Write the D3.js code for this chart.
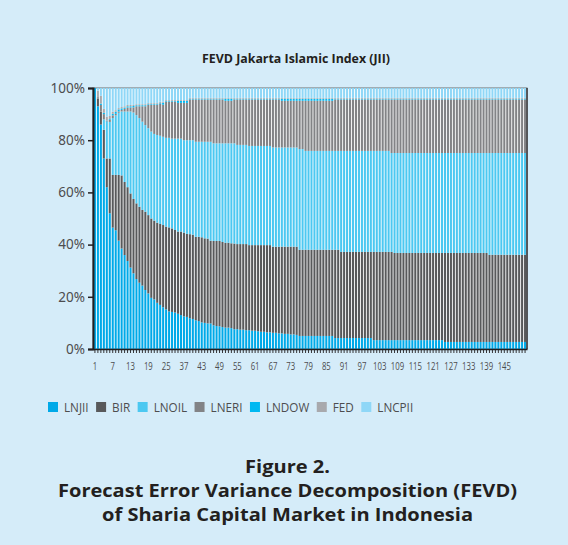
<!DOCTYPE html>
<html>
<head>
<meta charset="utf-8">
<script src="https://cdn.jsdelivr.net/npm/d3@7"></script>
<style>
  body { margin: 0; background: #d5ecf9; }
  svg { display: block; }
</style>
</head>
<body>
<script>
const width = 568;
const height = 545;
const plot = { left: 93, right: 527, top: 88, bottom: 349 };

const seriesNames = ["LNJII", "BIR", "LNOIL", "LNERI", "LNDOW", "FED", "LNCPII"];
const seriesColors = ["#00a9e8", "#58595b", "#4cc8f1", "#828386", "#00b8f1", "#a8a9ad", "#8fd7f7"];

// x tick labels as printed (every 6th period, one label skipped in the original)
const tickLabels = ["1", "7", "13", "19", "25", "37", "43", "49", "55", "61", "67", "73",
  "79", "85", "91", "97", "103", "109", "115", "121", "127", "133", "139", "145"];

// variance shares in percent, one value per period (146 periods)
const lnjii = [
  100, 93, 86, 73, 62, 52, 46.5, 45.5, 41.5, 38.5,
  36, 33.7, 31.2, 29, 26.8, 25.4, 24.3, 22.6, 21.3, 19.6,
  19, 17.7, 16.9, 16, 15.2, 14.4, 14.2, 14, 13.5, 13,
  12.5, 12.3, 11.8, 11.5, 11, 10.7, 10.2, 10, 9.8, 9.8,
  9.1, 8.8, 8.7, 8.4, 8.2, 8.2, 8, 7.6, 7.6, 7.4,
  7.4, 7.2, 7.2, 7, 7, 6.8, 6.6, 6.6, 6.4, 6.4,
  6.2, 6.2, 6, 6, 5.8, 5.8, 5.6, 5.6, 5.4, 5,
  5, 5, 5, 5, 5, 5, 5, 5, 5, 5,
  5, 4.2, 4.2, 4.2, 4.2, 4.2, 4.2, 4.2, 4.2, 4.2,
  4.2, 4.2, 4.2, 4.2, 3.4, 3.4, 3.4, 3.4, 3.4, 3.4,
  3.4, 3.4, 3.4, 3.4, 3.4, 3.4, 3.4, 3.4, 3.4, 3.4,
  3.4, 3.4, 3.4, 3.4, 3.4, 3.4, 3.4, 3.4, 2.7, 2.7,
  2.7, 2.7, 2.7, 2.7, 2.7, 2.7, 2.7, 2.7, 2.7, 2.7,
  2.7, 2.7, 2.7, 2.7, 2.7, 2.7, 2.7, 2.7, 2.7, 2.7,
  2.7, 2.7, 2.7, 2.7, 2.7, 2.7
];
const bir = [
  0, 3, 5, 11, 11, 21, 20.2, 21.2, 25.2, 28,
  28, 28.3, 28.4, 28.5, 29, 29.1, 29, 30, 30, 30.4,
  30.2, 30.7, 31, 31.5, 31.7, 32.2, 32, 31.6, 31.5, 32,
  32.1, 31.8, 32.2, 32.3, 32, 32.3, 32.6, 32.4, 32.5, 31.7,
  32.3, 32.6, 32.7, 32.6, 32.5, 32.5, 32.5, 32.8, 32.6, 32.8,
  32.8, 33, 32.6, 32.8, 32.8, 33, 33.2, 33.2, 33.4, 33.4,
  33, 33, 33.2, 33.2, 33.4, 33.4, 33.6, 33.6, 33.8, 33,
  33, 33, 33, 33, 33, 33, 33, 33, 33, 33,
  33, 33.8, 33.8, 33, 33, 33, 33, 33, 33, 33,
  33, 33, 33, 33, 33.8, 33.8, 33.8, 33.8, 33.8, 33.8,
  33.8, 33.4, 33.4, 33.4, 33.4, 33.4, 33.4, 33.4, 33.4, 33.4,
  33.4, 33.4, 33.4, 33.4, 33.4, 33.4, 33.4, 33.4, 34.1, 34.1,
  34.1, 34.1, 34.1, 34.1, 34.1, 34.1, 34.1, 34.1, 34.1, 34.1,
  34.1, 34.1, 34.1, 33.4, 33.4, 33.4, 33.4, 33.4, 33.4, 33.4,
  33.4, 33.4, 33.4, 33.4, 33.4, 33.4
];
const lnoil = [
  0, 0, 0, 4, 14, 14, 21.8, 22.8, 23.8, 24.5,
  27, 29, 31.4, 33.1, 33.8, 34, 33.8, 33.2, 33.3, 33.3,
  33.2, 33.6, 33.8, 33.8, 34, 34.3, 34.4, 35, 35.6, 35.6,
  35.4, 35.9, 36, 36.2, 36.4, 36.4, 36.6, 37, 37.1, 37.9,
  37.4, 37.4, 37.4, 37.8, 38.1, 38.1, 38.3, 38.4, 38, 38,
  38, 38, 38, 38, 38, 38, 38, 38, 38, 38,
  38, 38, 38, 38, 38, 38, 38, 38, 38, 38.6,
  38.6, 37.9, 37.9, 37.9, 37.9, 37.9, 37.9, 37.9, 37.9, 37.9,
  37.9, 37.9, 37.9, 38.7, 38.7, 38.7, 38.7, 38.7, 38.7, 38.7,
  38.7, 38.7, 38.7, 38.7, 38.7, 38.7, 38.7, 38.7, 38.7, 38.7,
  37.9, 38.3, 38.3, 38.3, 38.3, 38.3, 38.3, 38.3, 38.3, 38.3,
  38.3, 38.3, 38.3, 38.3, 38.3, 38.3, 38.3, 38.3, 38.3, 38.3,
  38.3, 38.3, 38.3, 38.3, 38.3, 38.3, 38.3, 38.3, 38.3, 38.3,
  38.3, 38.3, 38.3, 39, 39, 39, 39, 39, 39, 39,
  39, 39, 39, 39, 39, 39
];
const lneri = [
  0, 0.5, 2.5, 2, 0.2, 0.8, 1, 0.6, 0.5, 0.6,
  1, 1.5, 1.5, 2, 3.4, 4.5, 5.9, 7.2, 8.9, 10.2,
  11.1, 11.5, 12.3, 12.3, 13.9, 13.9, 14.2, 14.2, 13.7, 13.7,
  14.3, 14.3, 15.6, 15.6, 16.2, 16.2, 16.2, 16.2, 16.2, 16.2,
  16.8, 16.8, 16.8, 16.8, 16.3, 16.3, 16.3, 16.8, 17.4, 17.4,
  17.4, 17.4, 17.8, 17.8, 17.8, 17.8, 17.8, 17.8, 17.8, 17.8,
  18.4, 18.4, 18.4, 17.9, 17.9, 17.9, 17.9, 17.9, 17.9, 18.5,
  18.5, 19.2, 19.2, 19.2, 19.2, 19.2, 19.2, 19.2, 19.2, 19.2,
  19.2, 19.7, 19.7, 19.7, 19.7, 19.7, 19.7, 19.7, 19.7, 19.7,
  19.7, 19.7, 19.7, 19.7, 19.7, 19.7, 19.7, 19.7, 19.7, 19.7,
  20.5, 20.5, 20.5, 20.5, 20.5, 20.5, 20.5, 20.5, 20.5, 20.5,
  20.5, 20.5, 20.5, 20.5, 20.5, 20.5, 20.5, 20.5, 20.5, 20.5,
  20.5, 20.5, 20.5, 20.5, 20.5, 20.5, 20.5, 20.5, 20.5, 20.5,
  20.5, 20.5, 20.5, 20.5, 20.5, 20.5, 20.5, 20.5, 20.5, 20.5,
  20.5, 20.5, 20.5, 20.5, 20.5, 20.5
];
const lndow = [
  0, 0, 0.5, 0.5, 0.3, 0.3, 0.6, 0.8, 0.8, 0.6,
  0.5, 0.5, 0.5, 0.5, 0.4, 0.4, 0.4, 0.4, 0.3, 0.3,
  0.3, 0.3, 0.3, 0.8, 0.3, 0.3, 0.3, 0.3, 0.8, 0.8,
  0.8, 0.8, 0.3, 0.3, 0.3, 0.3, 0.3, 0.3, 0.3, 0.3,
  0.3, 0.3, 0.3, 0.3, 0.8, 0.8, 0.8, 0.3, 0.3, 0.3,
  0.3, 0.3, 0.3, 0.3, 0.3, 0.3, 0.3, 0.3, 0.3, 0.3,
  0.3, 0.3, 0.3, 0.8, 0.8, 0.8, 0.8, 0.8, 0.8, 0.8,
  0.8, 0.8, 0.8, 0.8, 0.8, 0.8, 0.8, 0.8, 0.8, 0.8,
  0.8, 0.3, 0.3, 0.3, 0.3, 0.3, 0.3, 0.3, 0.3, 0.3,
  0.3, 0.3, 0.3, 0.3, 0.3, 0.3, 0.3, 0.3, 0.3, 0.3,
  0.3, 0.3, 0.3, 0.3, 0.3, 0.3, 0.3, 0.3, 0.3, 0.3,
  0.3, 0.3, 0.3, 0.3, 0.3, 0.3, 0.3, 0.3, 0.3, 0.3,
  0.3, 0.3, 0.3, 0.3, 0.3, 0.3, 0.3, 0.3, 0.3, 0.3,
  0.3, 0.3, 0.3, 0.3, 0.3, 0.3, 0.3, 0.3, 0.3, 0.3,
  0.3, 0.3, 0.3, 0.3, 0.3, 0.3
];
const fed = [
  0, 2.5, 3, 1.5, 1.5, 1.2, 0.8, 0.6, 0.5, 0.5,
  0.5, 0.5, 0.5, 0.4, 0.4, 0.4, 0.4, 0.4, 0.4, 0.4,
  0.4, 0.4, 0.4, 0.3, 0.3, 0.3, 0.3, 0.3, 0.3, 0.3,
  0.3, 0.3, 0.3, 0.3, 0.3, 0.3, 0.3, 0.3, 0.3, 0.3,
  0.3, 0.3, 0.3, 0.3, 0.3, 0.3, 0.3, 0.3, 0.3, 0.3,
  0.3, 0.3, 0.3, 0.3, 0.3, 0.3, 0.3, 0.3, 0.3, 0.3,
  0.3, 0.3, 0.3, 0.3, 0.3, 0.3, 0.3, 0.3, 0.3, 0.3,
  0.3, 0.3, 0.3, 0.3, 0.3, 0.3, 0.3, 0.3, 0.3, 0.3,
  0.3, 0.3, 0.3, 0.3, 0.3, 0.3, 0.3, 0.3, 0.3, 0.3,
  0.3, 0.3, 0.3, 0.3, 0.3, 0.3, 0.3, 0.3, 0.3, 0.3,
  0.3, 0.3, 0.3, 0.3, 0.3, 0.3, 0.3, 0.3, 0.3, 0.3,
  0.3, 0.3, 0.3, 0.3, 0.3, 0.3, 0.3, 0.3, 0.3, 0.3,
  0.3, 0.3, 0.3, 0.3, 0.3, 0.3, 0.3, 0.3, 0.3, 0.3,
  0.3, 0.3, 0.3, 0.3, 0.3, 0.3, 0.3, 0.3, 0.3, 0.3,
  0.3, 0.3, 0.3, 0.3, 0.3, 0.3
];
const lncpii = [
  0, 1, 3, 8, 11, 10.7, 9.1, 8.5, 7.7, 7.3,
  7, 6.5, 6.5, 6.5, 6.2, 6.2, 6.2, 6.2, 5.8, 5.8,
  5.8, 5.8, 5.3, 5.3, 4.6, 4.6, 4.6, 4.6, 4.6, 4.6,
  4.6, 4.6, 3.8, 3.8, 3.8, 3.8, 3.8, 3.8, 3.8, 3.8,
  3.8, 3.8, 3.8, 3.8, 3.8, 3.8, 3.8, 3.8, 3.8, 3.8,
  3.8, 3.8, 3.8, 3.8, 3.8, 3.8, 3.8, 3.8, 3.8, 3.8,
  3.8, 3.8, 3.8, 3.8, 3.8, 3.8, 3.8, 3.8, 3.8, 3.8,
  3.8, 3.8, 3.8, 3.8, 3.8, 3.8, 3.8, 3.8, 3.8, 3.8,
  3.8, 3.8, 3.8, 3.8, 3.8, 3.8, 3.8, 3.8, 3.8, 3.8,
  3.8, 3.8, 3.8, 3.8, 3.8, 3.8, 3.8, 3.8, 3.8, 3.8,
  3.8, 3.8, 3.8, 3.8, 3.8, 3.8, 3.8, 3.8, 3.8, 3.8,
  3.8, 3.8, 3.8, 3.8, 3.8, 3.8, 3.8, 3.8, 3.8, 3.8,
  3.8, 3.8, 3.8, 3.8, 3.8, 3.8, 3.8, 3.8, 3.8, 3.8,
  3.8, 3.8, 3.8, 3.8, 3.8, 3.8, 3.8, 3.8, 3.8, 3.8,
  3.8, 3.8, 3.8, 3.8, 3.8, 3.8
];

const seriesValues = [lnjii, bir, lnoil, lneri, lndow, fed, lncpii];
const periods = d3.range(1, lnjii.length + 1);

const table = periods.map((p, i) => {
  const row = { period: p };
  seriesNames.forEach((k, j) => row[k] = seriesValues[j][i]);
  return row;
});

const stacked = d3.stack()
  .keys(seriesNames)
  .offset(d3.stackOffsetExpand)(table);

const x = d3.scaleBand()
  .domain(periods)
  .range([plot.left, plot.right])
  .paddingInner(0.3)
  .paddingOuter(0.3);

const y = d3.scaleLinear().domain([0, 1]).range([plot.bottom, plot.top]);

const color = d3.scaleOrdinal().domain(seriesNames).range(seriesColors);

// squeeze text horizontally, the original uses a condensed face
function condense(sel, factor) {
  sel.each(function () {
    const w = this.getComputedTextLength();
    d3.select(this)
      .attr("textLength", w * factor)
      .attr("lengthAdjust", "spacingAndGlyphs");
  });
}

const svg = d3.select("body")
  .append("svg")
  .attr("width", width)
  .attr("height", height);

svg.append("rect")
  .attr("width", width)
  .attr("height", height)
  .attr("fill", "#d5ecf9");

// chart title
svg.append("text")
  .attr("x", 296)
  .attr("y", 63)
  .attr("text-anchor", "middle")
  .attr("font-family", "'Open Sans', sans-serif")
  .attr("font-weight", "bold")
  .attr("font-size", "12.5px")
  .attr("fill", "#231f20")
  .text("FEVD Jakarta Islamic Index (JII)")
  .call(sel => sel.attr("textLength", 188).attr("lengthAdjust", "spacingAndGlyphs"));

// plot area
svg.append("rect")
  .attr("x", plot.left)
  .attr("y", plot.top)
  .attr("width", plot.right - plot.left)
  .attr("height", plot.bottom - plot.top)
  .attr("fill", "#ffffff")
  .attr("stroke", "#6d6e71")
  .attr("stroke-width", 1);

svg.append("g")
  .selectAll("g")
  .data(stacked)
  .join("g")
  .attr("fill", d => color(d.key))
  .selectAll("rect")
  .data(d => d)
  .join("rect")
  .attr("x", d => x(d.data.period))
  .attr("y", d => y(d[1]))
  .attr("height", d => y(d[0]) - y(d[1]))
  .attr("width", x.bandwidth());

// right border shadow
svg.append("line")
  .attr("x1", plot.right).attr("x2", plot.right)
  .attr("y1", plot.top).attr("y2", plot.bottom)
  .attr("stroke", "#3a3a3c").attr("stroke-width", 1.5);

// y axis
const yAxis = d3.axisLeft(y)
  .tickValues([0, 0.2, 0.4, 0.6, 0.8, 1])
  .tickFormat(d3.format(".0%"))
  .tickSize(5)
  .tickPadding(3);

const gy = svg.append("g")
  .attr("transform", `translate(${plot.left},0)`)
  .call(yAxis);
gy.select(".domain").attr("stroke", "#231f20").attr("stroke-width", 2);
gy.selectAll(".tick line").attr("stroke", "#231f20").attr("stroke-width", 1.5);
gy.selectAll(".tick text")
  .attr("font-family", "'Noto Sans', sans-serif")
  .attr("font-size", "13.5px")
  .attr("fill", "#4d4d4f");

// x axis: a small tick for every period
const xAxis = d3.axisBottom(x)
  .tickValues(periods)
  .tickFormat("")
  .tickSize(4)
  .tickSizeOuter(0);

const gx = svg.append("g")
  .attr("transform", `translate(0,${plot.bottom})`)
  .call(xAxis);
gx.select(".domain").attr("stroke", "#231f20").attr("stroke-width", 1.5);
gx.selectAll(".tick line").attr("stroke", "#231f20").attr("stroke-width", 0.9);

// x tick labels, every 6th period
const labelAxis = d3.axisBottom(x)
  .tickValues(periods.filter((p, i) => i % 6 === 0).slice(0, tickLabels.length))
  .tickFormat((d, i) => tickLabels[i])
  .tickSize(0)
  .tickPadding(14);

const gl = svg.append("g")
  .attr("transform", `translate(0,${plot.bottom})`)
  .call(labelAxis);
gl.select(".domain").remove();
gl.selectAll(".tick text")
  .attr("font-family", "'Open Sans', sans-serif")
  .attr("font-size", "10.5px")
  .attr("fill", "#4d4d4f")
  .call(condense, 0.74);

// legend
const legend = svg.append("g");
let lx = 48;
seriesNames.forEach((name, i) => {
  legend.append("rect")
    .attr("x", lx)
    .attr("y", 402)
    .attr("width", 10)
    .attr("height", 10)
    .attr("fill", seriesColors[i]);
  const t = legend.append("text")
    .attr("x", lx + 16)
    .attr("y", 412)
    .attr("font-family", "'Open Sans', sans-serif")
    .attr("font-size", "13px")
    .attr("fill", "#4d4d4f")
    .text(name)
    .call(condense, 0.9);
  lx += 16 + +t.attr("textLength") + 7.5;
});

// figure caption, stretched to the widths of the printed lines
const caption = ["Figure 2.", "Forecast Error Variance Decomposition (FEVD)", "of Sharia Capital Market in Indonesia"];
const captionWidths = [85, 459, 371];
svg.append("g")
  .selectAll("text")
  .data(caption)
  .join("text")
  .attr("x", 287.5)
  .attr("y", (d, i) => 473 + i * 24)
  .attr("text-anchor", "middle")
  .attr("font-family", "'Open Sans', sans-serif")
  .attr("font-weight", "bold")
  .attr("font-size", "17.5px")
  .attr("fill", "#231f20")
  .attr("textLength", (d, i) => captionWidths[i])
  .attr("lengthAdjust", "spacingAndGlyphs")
  .text(d => d);
</script>
</body>
</html>
